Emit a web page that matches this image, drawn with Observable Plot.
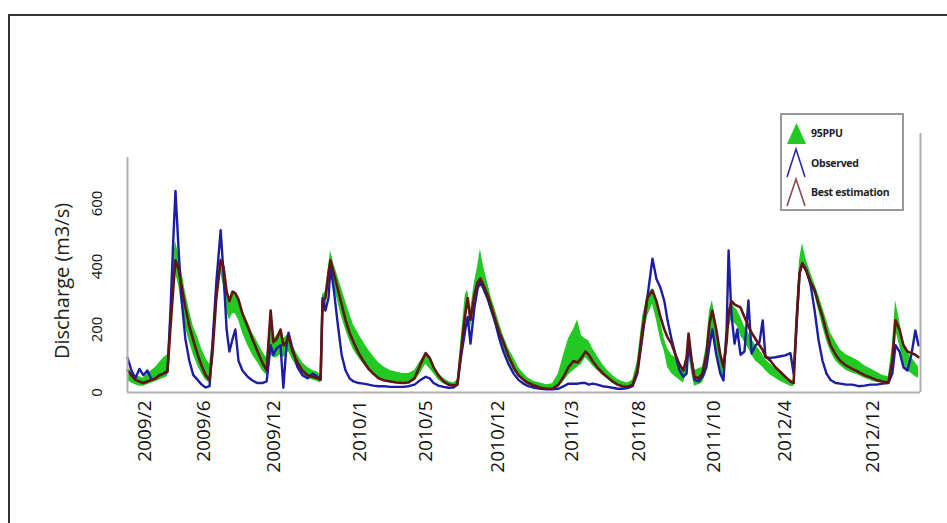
<!DOCTYPE html>
<html>
<head>
<meta charset="utf-8">
<script src="https://cdn.jsdelivr.net/npm/d3@7"></script>
<script src="https://cdn.jsdelivr.net/npm/@observablehq/plot@0.6"></script>
<style>
  body { margin: 0; background: #fff; font-family: "Open Sans", sans-serif; }
  #wrap { position: relative; width: 947px; height: 523px; overflow: hidden; }
  #chart { position: absolute; left: 0; top: 0; }
  #frame { position: absolute; left: 8px; top: 14px; width: 950px; height: 520px;
           border-top: 2px solid #333; border-left: 2px solid #333; pointer-events: none; }
  #legend { position: absolute; left: 780px; top: 113px; width: 120px; height: 94px;
            border: 2px solid #9a9a9a; background: #fff; }
  #legend .lab { position: absolute; left: 29px; font-size: 10.5px; font-weight: 700; color: #222;
                 letter-spacing: -0.3px; white-space: nowrap; }
  #legend svg { position: absolute; left: 0; top: 0; }
</style>
</head>
<body>
<div id="wrap">
  <div id="chart"></div>
  <div id="frame"></div>
  <div id="legend">
    <svg width="30" height="94">
      <polygon points="5,29 14.5,8 24,29" fill="#22c922"></polygon>
      <polyline points="5,62 14,34 23,62" fill="none" stroke="#2a2aa0" stroke-width="1.6"></polyline>
      <polyline points="5,91 14,64 23,91" fill="none" stroke="#8a4a4a" stroke-width="1.6"></polyline>
    </svg>
    <div class="lab" style="top:11px">95PPU</div>
    <div class="lab" style="top:41px">Observed</div>
    <div class="lab" style="top:70px">Best estimation</div>
  </div>
</div>
<script>
// time step index (weekly steps across 2009/2 – 2013)
const step = [0,1.0,2.0,3.0,4.0,5.0,6.1,7.1,8.1,9.1,10.1,10.8,11.6,12.1,12.9,13.6,14.6,15.6,16.6,17.7,18.7,19.7,20.7,21.4,22.4,23.5,24.2,25.0,25.7,26.5,27.2,28.0,29.0,30.3,31.5,32.8,34.0,35.1,36.1,36.8,37.6,38.6,39.3,40.1,40.6,41.6,42.9,44.1,45.4,46.7,47.9,48.7,49.2,49.9,50.7,51.2,52.0,53.0,54.0,55.0,56.0,57.0,58.3,59.5,60.8,62.0,63.3,64.8,66.3,67.8,69.4,70.9,72.4,73.9,75.2,76.2,77.2,78.4,79.7,81.0,82.2,83.2,84.2,85.2,85.8,86.5,87.5,88.3,89.0,89.8,90.8,91.8,92.8,93.8,94.8,96.1,97.4,98.6,99.9,101.1,102.6,104.2,105.7,107.2,108.7,110.0,111.2,112.5,113.5,114.5,115.5,116.3,117.3,118.5,119.8,121.1,122.3,123.6,124.8,126.1,127.4,128.6,129.9,131.1,132.4,133.4,134.4,135.4,136.2,137.2,138.2,139.2,140.2,141.0,141.5,142.3,143.0,144.0,145.0,146.0,146.8,147.5,148.5,149.5,150.3,151.1,151.6,152.3,153.1,153.8,154.6,155.6,156.6,157.4,158.4,159.4,160.2,160.9,162.2,163.4,164.7,165.9,167.2,168.0,168.7,169.5,170.2,171.2,172.3,173.3,174.3,175.3,176.3,177.3,178.6,179.8,181.3,182.8,184.4,185.9,187.4,188.9,190.4,191.9,192.9,193.7,194.7,195.7,196.7,197.7,198.7,199.5];
const observed = [110,70,45,75,55,70,40,45,55,60,65,250,500,640,450,300,170,100,55,40,25,16,20,150,350,515,380,200,130,170,200,100,70,50,38,30,30,35,150,120,140,150,15,150,190,140,80,55,45,60,50,45,300,260,300,400,330,220,120,70,45,35,30,28,25,22,20,20,18,18,18,20,25,40,50,45,30,22,18,15,16,25,120,200,240,155,270,330,350,330,300,260,220,170,130,90,60,40,28,20,15,12,10,10,12,20,28,28,28,30,30,25,28,25,20,18,15,12,12,14,20,60,180,300,425,360,333,290,229,170,120,70,50,60,150,100,40,35,50,80,150,200,120,60,38,200,451,250,155,200,120,130,292,124,150,160,229,112,110,112,115,118,125,60,200,380,410,390,340,260,165,100,60,40,30,28,25,25,20,22,25,25,28,30,60,150,130,80,70,120,197,150];
const best = [70,55,40,35,30,35,40,45,55,60,70,200,340,420,390,340,270,210,165,120,85,55,40,120,300,420,400,320,290,320,315,295,250,210,170,130,95,70,260,160,170,200,150,160,180,130,95,70,55,50,45,40,290,300,380,420,380,330,280,230,190,160,125,100,75,60,45,38,35,32,30,32,45,90,125,110,80,55,35,25,22,25,140,250,300,230,310,350,362,340,310,270,230,190,160,115,80,55,40,30,22,15,12,12,25,50,80,100,95,110,130,120,100,80,62,48,35,25,20,18,25,70,200,300,324,290,240,200,175,155,120,90,70,110,187,100,50,45,60,120,220,260,200,120,80,160,250,290,280,275,270,240,210,190,170,150,135,115,100,80,65,50,35,30,220,380,410,385,350,325,280,240,190,150,120,100,85,75,65,55,48,40,35,32,100,229,200,150,130,125,120,112];
const ppuLow = [40,30,25,20,20,25,30,35,40,45,50,180,320,380,340,280,210,160,120,85,60,40,30,100,260,380,340,260,230,250,250,230,190,150,120,95,70,55,120,110,110,120,110,120,130,105,75,55,45,40,35,30,250,260,330,380,340,290,240,200,165,135,110,90,70,55,45,40,35,32,30,30,35,60,90,75,60,40,28,20,18,20,130,240,290,200,290,330,350,320,290,250,210,170,140,100,70,50,35,25,15,10,8,8,15,35,55,70,80,90,110,100,85,70,55,42,30,22,15,12,15,50,160,240,280,230,170,130,80,60,50,40,30,60,120,60,20,25,30,60,150,200,140,70,40,120,200,230,220,210,180,160,140,120,100,90,80,70,55,45,35,28,20,18,200,360,400,380,340,310,260,210,165,130,100,85,70,62,55,45,38,32,30,28,80,200,150,90,70,60,50,45];
const ppuHigh = [80,65,55,50,45,60,70,80,95,110,120,260,420,480,440,390,320,260,210,175,140,110,90,160,330,430,390,330,300,320,320,300,260,225,190,160,130,110,250,170,180,200,170,180,185,150,120,95,80,70,65,55,310,320,400,450,410,370,330,290,250,215,185,160,135,115,95,80,70,65,60,60,70,100,125,110,85,60,45,35,30,40,180,310,325,260,350,400,455,400,350,300,260,220,180,140,110,80,60,45,35,30,25,28,60,120,170,200,230,180,170,165,140,115,90,70,55,42,35,30,40,100,240,310,330,290,230,170,140,120,110,90,70,120,180,110,70,75,80,150,260,292,220,140,100,200,260,290,270,260,240,210,190,170,150,135,120,105,90,75,62,50,40,38,260,420,473,420,380,345,310,270,230,190,160,135,120,110,100,85,75,65,55,50,150,292,230,160,130,110,95,80];

const tickPos = [4.3,19.2,36.8,58.5,75.2,93.3,112.2,128.9,147.8,165.9,188.1];
const tickLabels = ["2009/2","2009/6","2009/12","2010/1","2010/5","2010/12","2011/3","2011/8","2011/10","2012/4","2012/12"];
const yTicks = [0,200,400,600];
const yLabel = "Discharge (m3/s)";

const rows = step.map((s, i) => ({step: s, observed: observed[i], best: best[i], lo: ppuLow[i], hi: ppuHigh[i]}));

const chart = Plot.plot({
  width: 947,
  height: 523,
  marginLeft: 127,
  marginRight: 27,
  marginTop: 157,
  marginBottom: 131,
  x: {domain: [0, 200]},
  y: {domain: [0, 746]},
  style: {fontFamily: "'Open Sans', sans-serif", background: "transparent", color: "#111"},
  marks: [
    Plot.areaY(rows, {x: "step", y1: "lo", y2: "hi", fill: "#22c922", curve: "linear"}),
    Plot.lineY(rows, {x: "step", y: "observed", stroke: "#1c1ca6", strokeWidth: 2.4}),
    Plot.lineY(rows, {x: "step", y: "best", stroke: "#621414", strokeWidth: 2.6}),
    Plot.ruleX([0], {stroke: "#b0b0b0", strokeWidth: 2}),
    Plot.ruleY([0], {stroke: "#b0b0b0", strokeWidth: 2}),
    Plot.ruleX([200], {y1: 0, y2: 822, stroke: "#b0b0b0", strokeWidth: 2}),
    Plot.axisX({ticks: tickPos, tickFormat: d => tickLabels[tickPos.indexOf(d)], tickRotate: -90,
                tickSize: 0, tickPadding: 8, fontSize: 19, label: null, fill: "#111"}),
    Plot.axisY({ticks: yTicks, tickRotate: -90, tickSize: 0, tickPadding: 26, fontSize: 15, label: null, fill: "#111"}),
    Plot.text([yLabel], {frameAnchor: "left", textAnchor: "middle", rotate: -90, dx: -65, dy: 6, fontSize: 20, fill: "#222"})
  ]
});
document.getElementById("chart").appendChild(chart);
</script>
</body>
</html>
